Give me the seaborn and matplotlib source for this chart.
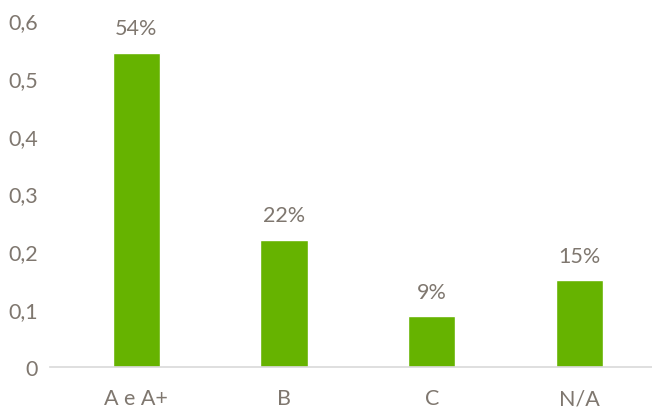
import matplotlib
matplotlib.use("Agg")
import matplotlib.pyplot as plt
import seaborn as sns
import pandas as pd

categories = ["A e A+", "B", "C", "N/A"]
values = [0.543, 0.22, 0.088, 0.15]
labels = ["54%", "22%", "9%", "15%"]
yticks = [0, 0.1, 0.2, 0.3, 0.4, 0.5, 0.6]
ytick_labels = ["0", "0,1", "0,2", "0,3", "0,4", "0,5", "0,6"]

sns.set_style("white")
plt.rcParams['font.family'] = ['Lato', 'DejaVu Sans']
text_color = "#7f776f"
green = "#66b300"

df = pd.DataFrame({"cat": categories, "val": values})
fig = plt.figure(figsize=(6.52, 4.10), dpi=100)
ax = fig.add_axes([0.077, 0.102, 0.923, 0.847])
sns.barplot(data=df, x="cat", y="val", color=green, width=0.32, ax=ax, saturation=1)

for i, (v, lab) in enumerate(zip(values, labels)):
    ax.text(i, v + 0.025, lab, ha="center", va="bottom", fontsize=15.5, color=text_color)

ax.set_ylim(0, 0.6)
ax.set_xlim(-0.582, 3.49)
ax.set_yticks(yticks)
ax.set_yticklabels(ytick_labels)
ax.set_xlabel("")
ax.set_ylabel("")
ax.tick_params(axis="both", length=0, labelsize=15.5, colors=text_color)
ax.tick_params(axis="y", pad=9)
ax.tick_params(axis="x", pad=15)
for s in ["top", "right", "left"]:
    ax.spines[s].set_visible(False)
ax.spines["bottom"].set_color("#d9d9d9")
ax.spines["bottom"].set_linewidth(1.2)

fig.savefig("out.png", dpi=100)
